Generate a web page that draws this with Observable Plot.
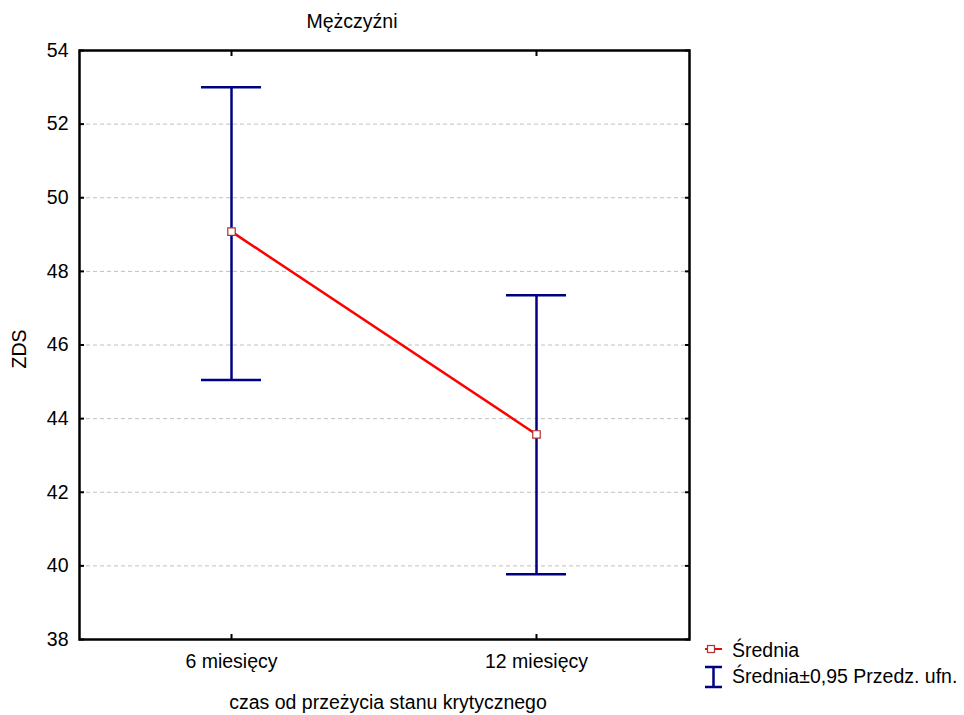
<!DOCTYPE html>
<html><head><meta charset="utf-8">
<script src="https://cdn.jsdelivr.net/npm/d3@7"></script>
<script src="https://cdn.jsdelivr.net/npm/@observablehq/plot@0.6"></script>
<style>
body{margin:0;background:#fff;}
#wrap{position:relative;width:964px;height:715px;font-family:"Liberation Sans",Arial,sans-serif;font-size:19.5px;color:#000;background:#fff;}
.lbl{position:absolute;white-space:nowrap;line-height:1;}
#wrap svg.icon{position:absolute;overflow:visible;}
</style></head><body><div id="wrap"></div>
<script>
const categories = ["6 miesięcy", "12 miesięcy"];
const means = [49.08, 43.57];
const lower = [45.05, 39.77];
const upper = [53.0, 47.35];
const yTicks = [38, 40, 42, 44, 46, 48, 50, 52, 54];
const gridTicks = [40, 42, 44, 46, 48, 50, 52];
const titleText = "Mężczyźni";
const xLabel = "czas od przeżycia stanu krytycznego";
const yLabel = "ZDS";
const legendLabels = ["Średnia", "Średnia±0,95 Przedz. ufn."];

const data = categories.map((c, i) => ({cat: c, mean: means[i], lo: lower[i], hi: upper[i]}));
const navy = "#000080";
const noText = () => "";

const chart = Plot.plot({
  width: 964, height: 715,
  marginLeft: 79, marginRight: 275, marginTop: 50, marginBottom: 76,
  style: {fontFamily: '"Liberation Sans", Arial, sans-serif', fontSize: "19.5px", background: "white", color: "black"},
  x: {type: "band", domain: categories, paddingInner: 0.8026, paddingOuter: 0.4013, label: null},
  y: {domain: [38, 54], label: null},
  marks: [
    Plot.gridY(gridTicks, {stroke: "#c0c0c0", strokeOpacity: 1, strokeWidth: 1, strokeDasharray: "4,3"}),
    Plot.ruleX(data, {x: "cat", y1: "lo", y2: "hi", stroke: navy, strokeWidth: 2.5}),
    Plot.tickY(data, {x: "cat", y: "hi", stroke: navy, strokeWidth: 2.5}),
    Plot.tickY(data, {x: "cat", y: "lo", stroke: navy, strokeWidth: 2.5}),
    Plot.line(data, {x: "cat", y: "mean", stroke: "#ff0000", strokeWidth: 2.5}),
    Plot.dot(data, {x: "cat", y: "mean", symbol: "square", r: 4.2, fill: "white", stroke: "#b03030", strokeWidth: 1.2}),
    Plot.axisY(yTicks, {anchor: "left", tickSize: 0, tickPadding: 11, tickFormat: d => String(d), label: null}),
    Plot.axisY(yTicks, {anchor: "left", tickSize: -5, tickFormat: noText, label: null, stroke: "black", strokeWidth: 2}),
    Plot.axisY(yTicks, {anchor: "right", tickSize: -5, tickFormat: noText, label: null, stroke: "black", strokeWidth: 2}),
    Plot.axisX(categories, {anchor: "bottom", tickSize: 0, tickPadding: 15, label: null}),
    Plot.axisX(categories, {anchor: "bottom", tickSize: -5, tickFormat: noText, label: null, stroke: "black", strokeWidth: 2}),
    Plot.axisX(categories, {anchor: "top", tickSize: -5, tickFormat: noText, label: null, stroke: "black", strokeWidth: 2}),
    Plot.frame({stroke: "black", strokeWidth: 2.5})
  ]
});

const wrap = document.getElementById("wrap");
wrap.appendChild(chart);

function addLabel(text, left, top, extra) {
  const d = document.createElement("div");
  d.className = "lbl";
  d.textContent = text;
  d.style.left = left + "px";
  d.style.top = top + "px";
  if (extra) Object.assign(d.style, extra);
  wrap.appendChild(d);
  return d;
}
addLabel(titleText, 352, 11.5, {transform: "translateX(-50%)"});
addLabel(xLabel, 388, 693, {transform: "translateX(-50%)"});
addLabel(yLabel, 20, 349, {transform: "translate(-50%,-50%) rotate(-90deg)"});
addLabel(legendLabels[0], 732, 640.5);
addLabel(legendLabels[1], 732, 667);

const ns = "http://www.w3.org/2000/svg";
function icon(left, top, w, h, inner) {
  const s = document.createElementNS(ns, "svg");
  s.setAttribute("class", "icon");
  s.setAttribute("width", w); s.setAttribute("height", h);
  s.style.left = left + "px"; s.style.top = top + "px";
  s.innerHTML = inner;
  wrap.appendChild(s);
}
icon(704, 643, 20, 12, `<line x1="1" y1="6" x2="18" y2="6" stroke="#ff0000" stroke-width="2"/><rect x="3.5" y="2.5" width="7" height="7" fill="white" stroke="#b03030" stroke-width="1.2"/>`);
icon(704, 665, 20, 24, `<line x1="1" y1="2" x2="18" y2="2" stroke="${navy}" stroke-width="2.5"/><line x1="9.5" y1="2" x2="9.5" y2="22" stroke="${navy}" stroke-width="2.5"/><line x1="1" y1="22" x2="18" y2="22" stroke="${navy}" stroke-width="2.5"/>`);
</script></body></html>
